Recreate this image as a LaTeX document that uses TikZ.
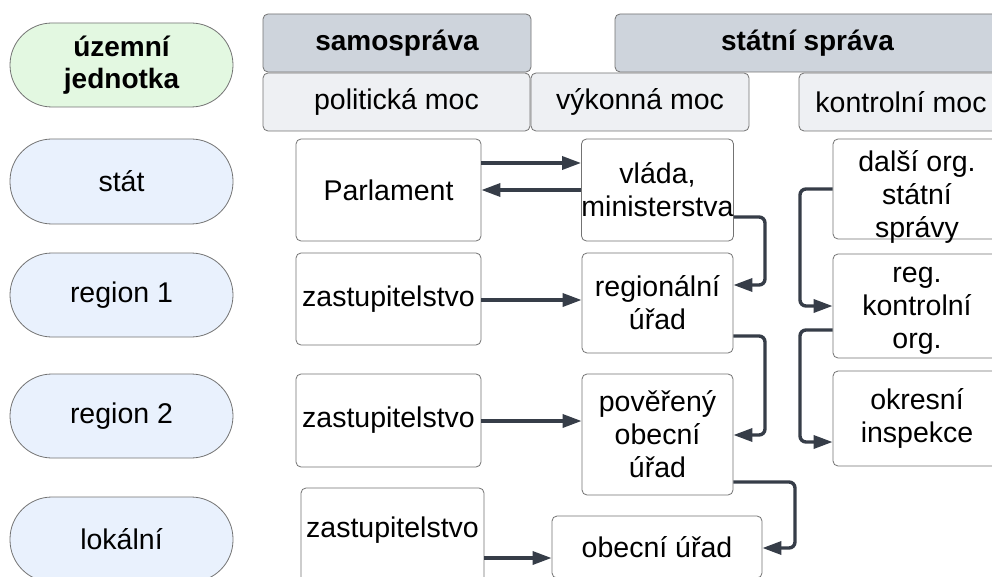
\documentclass[tikz,border=0pt]{standalone}
\usepackage{fontspec}
\setmainfont{Liberation Sans}
\usetikzlibrary{arrows.meta}
\definecolor{arrowc}{HTML}{363D48}
\definecolor{bordc}{HTML}{737373}
\definecolor{pillgreen}{HTML}{E3F8E1}
\definecolor{pillblue}{HTML}{E9F1FD}
\definecolor{headc}{HTML}{CED4DC}
\definecolor{subc}{HTML}{EEF0F3}
\begin{document}
\begin{tikzpicture}[x=1pt,y=-1pt,
  base/.style={draw=bordc, line width=0.8pt, align=center, inner sep=0pt,
    font=\fontsize{28.5}{33}\selectfont, text=black},
  pill/.style={base, rounded corners=42pt, fill=pillblue},
  pillg/.style={base, rounded corners=42pt, fill=pillgreen, font=\fontsize{28}{32.5}\selectfont\bfseries},
  head/.style={base, rounded corners=5pt, fill=headc, font=\fontsize{28}{32.5}\selectfont\bfseries},
  sub/.style={base, rounded corners=5pt, fill=subc},
  box/.style={base, rounded corners=5pt, fill=white},
  txt/.style={inner sep=0pt, align=center, font=\fontsize{28.5}{33}\selectfont},
  arr/.style={draw=arrowc, line width=3.4pt, rounded corners=6pt,
    -{Triangle[length=19pt,width=13pt]}}
]
\useasboundingbox (0,0) rectangle (992,577);
\clip (0,0) rectangle (992,577);
\fill[white] (0,0) rectangle (992,577);

% left column
\node[pillg, minimum width=223pt, minimum height=84pt] (uj) at (121.5,65) {územní\\jednotka};
\node[pill, minimum width=223pt, minimum height=85pt] (stat) at (121.5,181.5) {stát};
\node[pill, minimum width=223pt, minimum height=84pt] (r1) at (121.5,295) {region 1};
\node[pill, minimum width=223pt, minimum height=84pt] (r2) at (121.5,416) {region 2};
\node[pill, minimum width=223pt, minimum height=85pt] (lok) at (121.5,539.5) {lokální};

% headers
\node[head, minimum width=268pt, minimum height=58pt] (samo) at (397,43) {samospráva};
\node[head, minimum width=385pt, minimum height=58pt] (statni) at (807.5,43) {státní správa};
\node[sub, minimum width=267pt, minimum height=58pt] (polit) at (396.5,102) {politická moc};
\node[sub, minimum width=218pt, minimum height=58pt] (vyk) at (640,102) {výkonná moc};
\node[sub, minimum width=204pt, minimum height=58pt] (kontr) at (901,102) {kontrolní moc};

% political column
\node[box, minimum width=185pt, minimum height=102pt] (parl) at (388.5,190) {Parlament};
\node[box, minimum width=185pt, minimum height=92pt] (zast1) at (388.5,299) {zastupitelstvo};
\node[box, minimum width=185pt, minimum height=93pt] (zast2) at (388.5,420.5) {zastupitelstvo};
\node[box, minimum width=183pt, minimum height=152pt] (zast3) at (392.5,564) {};
\node[txt] (zast3t) at (392.5,530) {zastupitelstvo};

% executive column
\node[box, minimum width=151pt, minimum height=102pt] (vlada) at (657.5,190) {vláda,\\ministerstva};
\node[box, minimum width=151pt, minimum height=100pt] (regu) at (657.5,303) {regionální\\úřad};
\node[box, minimum width=151pt, minimum height=121pt] (pov) at (657.5,434.5) {pověřený\\obecní\\úřad};
\node[box, minimum width=210pt, minimum height=62pt] (obec) at (657,547) {obecní úřad};

% control column
\node[box, minimum width=168pt, minimum height=100pt,
  label={[txt, yshift=-8pt]center:{další org.\\státní\\správy}}] (dalsi) at (917,189) {};
\node[box, minimum width=168pt, minimum height=104pt,
  label={[txt, yshift=-5pt]center:{reg.\\kontrolní\\org.}}] (regk) at (917,306) {};
\node[box, minimum width=168pt, minimum height=95pt] (okr) at (917,418.5) {okresní\\inspekce};

% connectors
\draw[arr] (parl.east |- 0,163) -- (vlada.west |- 0,163);
\draw[arr] (vlada.west |- 0,190) -- (parl.east |- 0,190);
\draw[arr] (vlada.east |- 0,217) -- (765,217) -- (765,285) -- (regu.east |- 0,285);
\draw[arr] (regu.east |- 0,336) -- (765,336) -- (765,435) -- (pov.east |- 0,435);
\draw[arr] (pov.east |- 0,482) -- (795,482) -- (795,548) -- (obec.east |- 0,548);
\draw[arr] (zast1.east |- 0,300) -- (regu.west |- 0,300);
\draw[arr] (zast2.east |- 0,421) -- (pov.west |- 0,421);
\draw[arr] (zast3.east |- 0,558) -- (obec.west |- 0,558);
\draw[arr] (dalsi.west |- 0,189) -- (800,189) -- (800,306) -- (regk.west |- 0,306);
\draw[arr] (regk.west |- 0,330) -- (800,330) -- (800,442) -- (okr.west |- 0,442);
\end{tikzpicture}
\end{document}
